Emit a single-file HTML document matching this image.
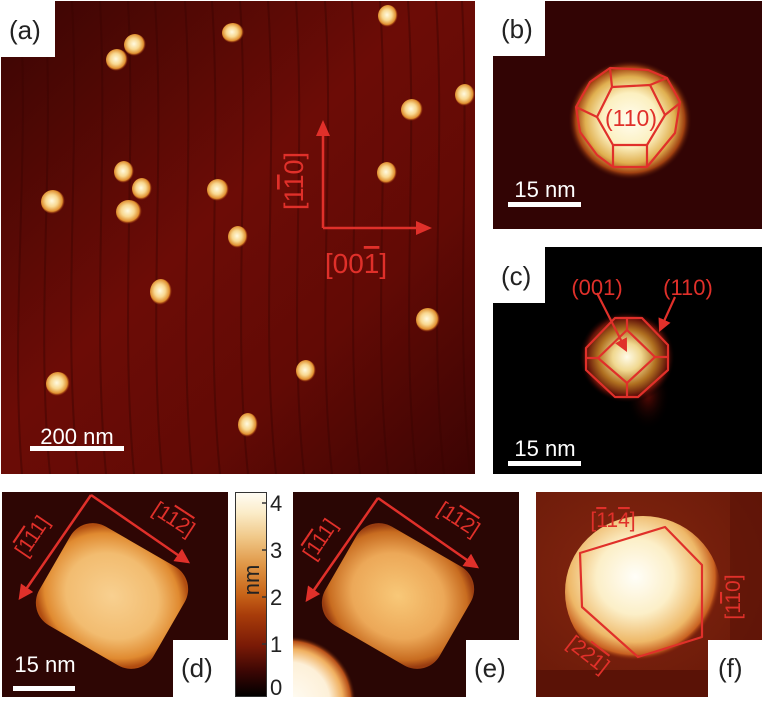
<!DOCTYPE html>
<html><head><meta charset="utf-8"><style>
html,body{margin:0;padding:0;background:#fff;overflow:hidden;width:764px;height:703px;}
svg{display:block;font-family:"Liberation Sans",sans-serif;}
.o{text-decoration:overline;}
</style></head><body>
<svg width="764" height="703" viewBox="0 0 764 703" xmlns="http://www.w3.org/2000/svg">
<defs>
<clipPath id="cA"><rect x="1" y="1" width="474" height="473"/></clipPath>
<clipPath id="cB"><rect x="493" y="1" width="269" height="228"/></clipPath>
<clipPath id="cC"><rect x="493" y="247" width="269" height="227"/></clipPath>
<clipPath id="cD"><rect x="2" y="492" width="226" height="205"/></clipPath>
<clipPath id="cE"><rect x="293" y="492" width="226" height="205"/></clipPath>
<clipPath id="cF"><rect x="536" y="492" width="226" height="205"/></clipPath>
<linearGradient id="bgA" x1="0" y1="0" x2="1" y2="1">
<stop offset="0" stop-color="#3a0503"/><stop offset="0.45" stop-color="#6c0c06"/><stop offset="0.7" stop-color="#620a05"/><stop offset="1" stop-color="#3c0403"/>
</linearGradient>
<radialGradient id="pA" cx="0.45" cy="0.45" r="0.55">
<stop offset="0" stop-color="#fffae0"/><stop offset="0.45" stop-color="#f8d890"/><stop offset="0.8" stop-color="#e09030"/><stop offset="1" stop-color="#a03008" stop-opacity="0"/>
</radialGradient>
<radialGradient id="pB" cx="0.5" cy="0.5" r="0.5">
<stop offset="0" stop-color="#fffdf0"/><stop offset="0.45" stop-color="#fcf0c0"/><stop offset="0.72" stop-color="#e0b050"/><stop offset="0.88" stop-color="#a04010"/><stop offset="1" stop-color="#300404" stop-opacity="0"/>
</radialGradient>
<radialGradient id="pC" cx="0.5" cy="0.5" r="0.5">
<stop offset="0" stop-color="#fffbe8"/><stop offset="0.3" stop-color="#f0d890"/><stop offset="0.6" stop-color="#b07020"/><stop offset="0.85" stop-color="#601008"/><stop offset="1" stop-color="#000" stop-opacity="0"/>
</radialGradient>
<radialGradient id="pD" cx="0.5" cy="0.5" r="0.6">
<stop offset="0" stop-color="#f8d090"/><stop offset="0.6" stop-color="#f2bc70"/><stop offset="0.88" stop-color="#e08a30"/><stop offset="1" stop-color="#b04c10"/>
</radialGradient>
<radialGradient id="pE" cx="0.5" cy="0.5" r="0.6">
<stop offset="0" stop-color="#f8c878"/><stop offset="0.6" stop-color="#eca858"/><stop offset="0.9" stop-color="#c86c20"/><stop offset="1" stop-color="#983c10"/>
</radialGradient>
<radialGradient id="pF" cx="0.45" cy="0.4" r="0.55">
<stop offset="0" stop-color="#fffef8"/><stop offset="0.45" stop-color="#fcefc8"/><stop offset="0.78" stop-color="#eeb868"/><stop offset="0.93" stop-color="#c86020"/><stop offset="1" stop-color="#801e08" stop-opacity="0"/>
</radialGradient>
<radialGradient id="pEc" gradientUnits="userSpaceOnUse" cx="290" cy="702" r="66">
<stop offset="0" stop-color="#fffcf4"/><stop offset="0.6" stop-color="#fdf0d8"/><stop offset="0.8" stop-color="#f0b060"/><stop offset="0.92" stop-color="#b85018"/><stop offset="1" stop-color="#2a0604" stop-opacity="0"/>
</radialGradient>
<radialGradient id="tailC" cx="0.5" cy="0.5" r="0.5">
<stop offset="0" stop-color="#5a0a05"/><stop offset="1" stop-color="#000" stop-opacity="0"/>
</radialGradient>
<linearGradient id="cb" x1="0" y1="1" x2="0" y2="0">
<stop offset="0" stop-color="#000"/><stop offset="0.12" stop-color="#3a0604"/><stop offset="0.25" stop-color="#7a1a06"/><stop offset="0.4" stop-color="#a83c0a"/><stop offset="0.5" stop-color="#c86418"/><stop offset="0.65" stop-color="#e09848"/><stop offset="0.78" stop-color="#f0c888"/><stop offset="0.9" stop-color="#fbecc8"/><stop offset="1" stop-color="#fffcf4"/>
</linearGradient>
<radialGradient id="bgF" cx="0.4" cy="0.4" r="0.8">
<stop offset="0" stop-color="#842610"/><stop offset="1" stop-color="#661808"/>
</radialGradient>
<marker id="ah" markerWidth="6" markerHeight="6" refX="5" refY="3" orient="auto" markerUnits="strokeWidth">
<path d="M0,0 L6,3 L0,6 z" fill="#e0302a"/>
</marker>
</defs>

<!-- Panel (a) -->
<g clip-path="url(#cA)">
<rect x="1" y="1" width="474" height="473" fill="url(#bgA)"/>
<g stroke="#3a0503" stroke-opacity="0.45" stroke-width="2" fill="none">
<path d="M20,1 C30,160 10,320 22,474"/><path d="M45,1 C55,160 35,320 50,474"/><path d="M72,1 C80,160 62,320 78,474"/>
<path d="M100,1 C108,160 92,320 106,474"/><path d="M128,1 C136,160 120,320 134,474"/><path d="M155,1 C165,160 148,320 162,474"/>
<path d="M185,1 C195,160 178,320 192,474"/><path d="M212,1 C222,160 205,320 220,474"/><path d="M240,1 C250,160 232,320 248,474"/>
<path d="M268,1 C278,160 260,320 276,474"/><path d="M296,1 C306,160 288,320 304,474"/><path d="M325,1 C335,160 316,320 332,474"/>
<path d="M352,1 C362,160 344,320 360,474"/><path d="M380,1 C390,160 372,320 388,474"/><path d="M408,1 C418,160 400,320 416,474"/>
<path d="M436,1 C446,160 428,320 444,474"/><path d="M462,1 C470,160 455,320 470,474"/>
</g>
<g fill="url(#pA)">
<ellipse cx="388" cy="16" rx="10" ry="11"/><ellipse cx="233" cy="33" rx="11" ry="10"/><ellipse cx="135" cy="45" rx="11" ry="11"/>
<ellipse cx="117" cy="60" rx="11" ry="11"/><ellipse cx="465" cy="95" rx="10" ry="11"/><ellipse cx="412" cy="110" rx="11" ry="11"/>
<ellipse cx="124" cy="172" rx="10" ry="11"/><ellipse cx="142" cy="189" rx="10" ry="11"/><ellipse cx="218" cy="190" rx="11" ry="11"/>
<ellipse cx="53" cy="202" rx="12" ry="12"/><ellipse cx="129" cy="212" rx="13" ry="12"/><ellipse cx="387" cy="173" rx="10" ry="11"/>
<ellipse cx="238" cy="237" rx="10" ry="11"/><ellipse cx="161" cy="292" rx="11" ry="13"/><ellipse cx="428" cy="320" rx="12" ry="12"/>
<ellipse cx="306" cy="371" rx="10" ry="11"/><ellipse cx="58" cy="384" rx="12" ry="12"/><ellipse cx="248" cy="425" rx="10" ry="12"/>
</g>
</g>
<rect x="0" y="0" width="55" height="57" fill="#fff"/>
<text x="9" y="39" font-size="26" fill="#222">(a)</text>
<g stroke="#e0302a" stroke-width="2.5" fill="none">
<path d="M323,228 L323,132"/><path d="M323,228 L420,228"/>
</g>
<path d="M323,120 L316,136 L330,136 z" fill="#e0302a"/><path d="M432,228 L416,221 L416,235 z" fill="#e0302a"/>
<text transform="translate(303,181) rotate(-90)" text-anchor="middle" font-size="27" fill="#e0302a">[1<tspan class="o">1</tspan>0]</text>
<text x="356" y="273" text-anchor="middle" font-size="28" fill="#e0302a">[00<tspan class="o">1</tspan>]</text>
<text x="77" y="444" text-anchor="middle" font-size="22" fill="#fff">200 nm</text>
<rect x="30" y="446" width="94" height="5" fill="#fff"/>

<!-- Panel (b) -->
<g clip-path="url(#cB)">
<rect x="493" y="1" width="269" height="228" fill="#320404"/>
<ellipse cx="630" cy="120" rx="62" ry="60" fill="url(#pB)"/>
</g>
<g stroke="#e0302a" stroke-width="2.2" fill="none" stroke-linejoin="round">
<polygon points="610,68 648,70 667,78 680,102 675,133 647,167 613,167 597,155 580,132 576,107 590,82"/>
<polygon points="612,87 650,85 665,115 647,145 613,145 597,117"/>
<path d="M612,87 L610,68 M650,85 L667,78 M665,115 L680,103 M647,145 L647,167 M613,145 L613,167 M597,117 L576,107"/>
</g>
<text x="631" y="126" text-anchor="middle" font-size="23" fill="#e0302a">(110)</text>
<rect x="493" y="0" width="52" height="56" fill="#fff"/>
<text x="501" y="38" font-size="26" fill="#222">(b)</text>
<text x="545" y="197" text-anchor="middle" font-size="22" fill="#fff">15 nm</text>
<rect x="508" y="202" width="73" height="5" fill="#fff"/>

<!-- Panel (c) -->
<g clip-path="url(#cC)">
<rect x="493" y="247" width="269" height="227" fill="#000"/>
<ellipse cx="648" cy="395" rx="22" ry="35" fill="url(#tailC)"/>
<ellipse cx="627" cy="357" rx="48" ry="46" fill="url(#pC)"/>
</g>
<g stroke="#e0302a" stroke-width="2.2" fill="none" stroke-linejoin="round">
<polygon points="615,318 642,318 668,345 668,370 638,397 615,397 586,370 586,348"/>
<polygon points="627,330 655,357 627,383 598,358"/>
<path d="M627,318 L627,330 M668,357 L655,357 M627,383 L627,397 M586,358 L598,358"/>
<path d="M597,293 L626,350" marker-end="url(#ah)"/>
<path d="M675,297 L660,330" marker-end="url(#ah)"/>
</g>
<text x="597" y="295" text-anchor="middle" font-size="22" fill="#e0302a">(001)</text>
<text x="688" y="295" text-anchor="middle" font-size="22" fill="#e0302a">(110)</text>
<rect x="493" y="247" width="52" height="56" fill="#fff"/>
<text x="501" y="285" font-size="26" fill="#222">(c)</text>
<text x="545" y="456" text-anchor="middle" font-size="22" fill="#fff">15 nm</text>
<rect x="508" y="461" width="73" height="5" fill="#fff"/>

<!-- Panel (d) -->
<g clip-path="url(#cD)">
<rect x="2" y="492" width="226" height="205" fill="#2e0604"/>
<rect x="46" y="539" width="132" height="114" rx="26" fill="url(#pD)" transform="rotate(30 112 596)"/>
</g>
<g stroke="#e0302a" stroke-width="2.5" fill="none">
<path d="M91,495 L20,598" marker-end="url(#ah)"/>
<path d="M91,495 L188,562" marker-end="url(#ah)"/>
</g>
<text transform="translate(38,540) rotate(-56)" text-anchor="middle" font-size="21" fill="#e0302a">[<tspan class="o">1</tspan><tspan class="o">1</tspan>1]</text>
<text transform="translate(170,525) rotate(33)" text-anchor="middle" font-size="21" fill="#e0302a">[1<tspan class="o">1</tspan><tspan class="o">2</tspan>]</text>
<rect x="173" y="640" width="55" height="57" fill="#fff"/>
<text x="181" y="677" font-size="26" fill="#222">(d)</text>
<text x="45" y="672" text-anchor="middle" font-size="22" fill="#fff">15 nm</text>
<rect x="13" y="686" width="62" height="5" fill="#fff"/>

<!-- Colorbar -->
<rect x="235.5" y="492.5" width="31" height="204" fill="url(#cb)" stroke="#333" stroke-width="1"/>
<g stroke="#333" stroke-width="1.5">
<path d="M262,503 H267"/><path d="M262,550 H267"/><path d="M262,597 H267"/><path d="M262,644 H267"/>
</g>
<g font-size="22" fill="#222">
<text x="270" y="511">4</text><text x="270" y="558">3</text><text x="270" y="605">2</text><text x="270" y="652">1</text><text x="270" y="695">0</text>
</g>
<text transform="translate(259,580) rotate(-90)" text-anchor="middle" font-size="22" fill="#222">nm</text>

<!-- Panel (e) -->
<g clip-path="url(#cE)">
<rect x="293" y="492" width="226" height="205" fill="#2a0604"/>
<rect x="293" y="630" width="70" height="67" fill="url(#pEc)"/>
<rect x="332" y="539" width="132" height="114" rx="26" fill="url(#pE)" transform="rotate(30 398 596)"/>
</g>
<g stroke="#e0302a" stroke-width="2.5" fill="none">
<path d="M378,498 L307,600" marker-end="url(#ah)"/>
<path d="M378,498 L477,567" marker-end="url(#ah)"/>
</g>
<text transform="translate(326,543) rotate(-56)" text-anchor="middle" font-size="21" fill="#e0302a">[<tspan class="o">1</tspan><tspan class="o">1</tspan>1]</text>
<text transform="translate(455,525) rotate(33)" text-anchor="middle" font-size="21" fill="#e0302a">[1<tspan class="o">1</tspan><tspan class="o">2</tspan>]</text>
<rect x="466" y="640" width="53" height="57" fill="#fff"/>
<text x="474" y="677" font-size="26" fill="#222">(e)</text>

<!-- Panel (f) -->
<g clip-path="url(#cF)">
<rect x="536" y="492" width="226" height="205" fill="url(#bgF)"/>
<rect x="730" y="492" width="32" height="178" fill="#5a1206" opacity="0.6"/>
<rect x="536" y="670" width="226" height="27" fill="#5a1206"/>
<ellipse cx="643" cy="592" rx="78" ry="76" fill="url(#pF)"/>
</g>
<polygon points="580,553 665,527 702,565 702,637 638,657 582,607" fill="none" stroke="#e0302a" stroke-width="2.2" stroke-linejoin="round"/>
<text x="613" y="527" text-anchor="middle" font-size="21" fill="#e0302a">[<tspan class="o">1</tspan>1<tspan class="o">4</tspan>]</text>
<text transform="translate(740,597) rotate(-90)" text-anchor="middle" font-size="21" fill="#e0302a">[1<tspan class="o">1</tspan>0]</text>
<text transform="translate(584,660) rotate(38)" text-anchor="middle" font-size="21" fill="#e0302a">[2<tspan class="o">2</tspan><tspan class="o">1</tspan>]</text>
<rect x="708" y="640" width="54" height="57" fill="#fff"/>
<text x="718" y="677" font-size="26" fill="#222">(f)</text>
</svg>
</body></html>
